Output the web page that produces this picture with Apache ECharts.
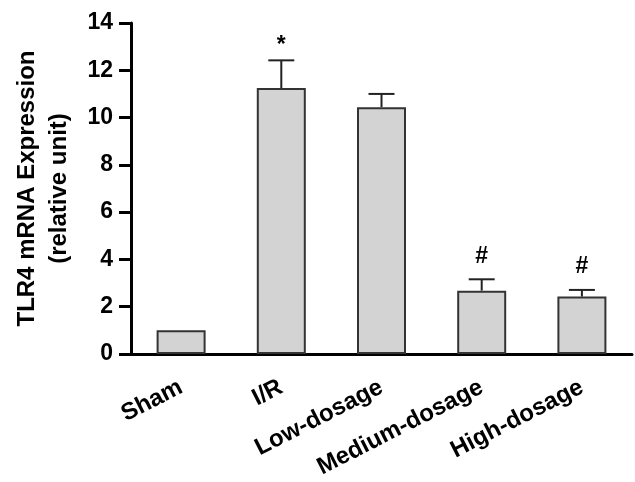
<!DOCTYPE html>
<html>
<head>
<meta charset="utf-8">
<script src="https://cdn.jsdelivr.net/npm/echarts@6/dist/echarts.min.js"></script>
<style>
html,body{margin:0;padding:0;background:#fff;}
#chart{width:635px;height:482px;}
</style>
</head>
<body>
<div id="chart"></div>
<script>
var categories = ['Sham', 'I/R', 'Low-dosage', 'Medium-dosage', 'High-dosage'];
var meanValues = [1.0, 11.25, 10.44, 2.68, 2.43];
var upperValues = [1.0, 12.42, 11.0, 3.16, 2.71];
var marks = ['', '*', '', '#', '#'];
var yTicks = [0, 2, 4, 6, 8, 10, 12, 14];

var FONT = '"Liberation Sans", Arial, sans-serif';
var chart = echarts.init(document.getElementById('chart'));

var errData = categories.map(function (c, i) { return [i, meanValues[i], upperValues[i], marks[i]]; });

chart.setOption({
  animation: false,
  backgroundColor: '#fff',
  grid: { left: 131, right: 3, top: 23, bottom: 128, containLabel: false },
  xAxis: {
    type: 'category',
    data: categories,
    axisLine: { lineStyle: { color: '#000', width: 3 } },
    axisTick: { alignWithLabel: true, length: 10, lineStyle: { color: '#000', width: 3 } },
    axisLabel: { rotate: 27, margin: 32, color: '#000', fontFamily: FONT, fontWeight: 'bold', fontSize: 24 }
  },
  yAxis: {
    type: 'value',
    min: 0, max: 14, interval: 2,
    name: 'TLR4 mRNA Expression\n(relative unit)',
    nameLocation: 'middle',
    nameGap: 56,
    nameTextStyle: { color: '#000', fontFamily: FONT, fontWeight: 'bold', fontSize: 24, lineHeight: 32 },
    axisLine: { show: true, lineStyle: { color: '#000', width: 3 } },
    axisTick: { show: true, length: 12, lineStyle: { color: '#000', width: 3 } },
    axisLabel: {
      margin: 18, color: '#000', fontFamily: FONT, fontWeight: 'bold', fontSize: 23,
      formatter: function (v) { return yTicks.indexOf(v) >= 0 ? String(v) : ''; }
    },
    splitLine: { show: false }
  },
  series: [
    {
      type: 'bar',
      data: meanValues,
      barWidth: 49,
      itemStyle: { color: '#d3d3d3', borderColor: '#333', borderWidth: 2 },
      z: 2
    },
    {
      type: 'custom',
      data: errData,
      z: 3,
      renderItem: function (params, api) {
        var i = api.value(0);
        var top = api.coord([i, api.value(1)]);
        var up = api.coord([i, api.value(2)]);
        var half = 13;
        var children = [];
        if (api.value(2) > api.value(1)) {
          children.push({ type: 'line', shape: { x1: top[0], y1: top[1], x2: up[0], y2: up[1] }, style: { stroke: '#222', lineWidth: 2 } });
          children.push({ type: 'line', shape: { x1: up[0] - half, y1: up[1], x2: up[0] + half, y2: up[1] }, style: { stroke: '#222', lineWidth: 2 } });
        }
        var m = marks[params.dataIndex];
        if (m) {
          var isStar = m === '*';
          children.push({
            type: 'text',
            style: {
              text: m, x: up[0], y: up[1] - (isStar ? 15 : 23),
              align: 'center', verticalAlign: 'middle',
              fill: '#000', font: 'bold 23px ' + FONT
            }
          });
        }
        return { type: 'group', children: children };
      }
    }
  ]
});
</script>
</body>
</html>
